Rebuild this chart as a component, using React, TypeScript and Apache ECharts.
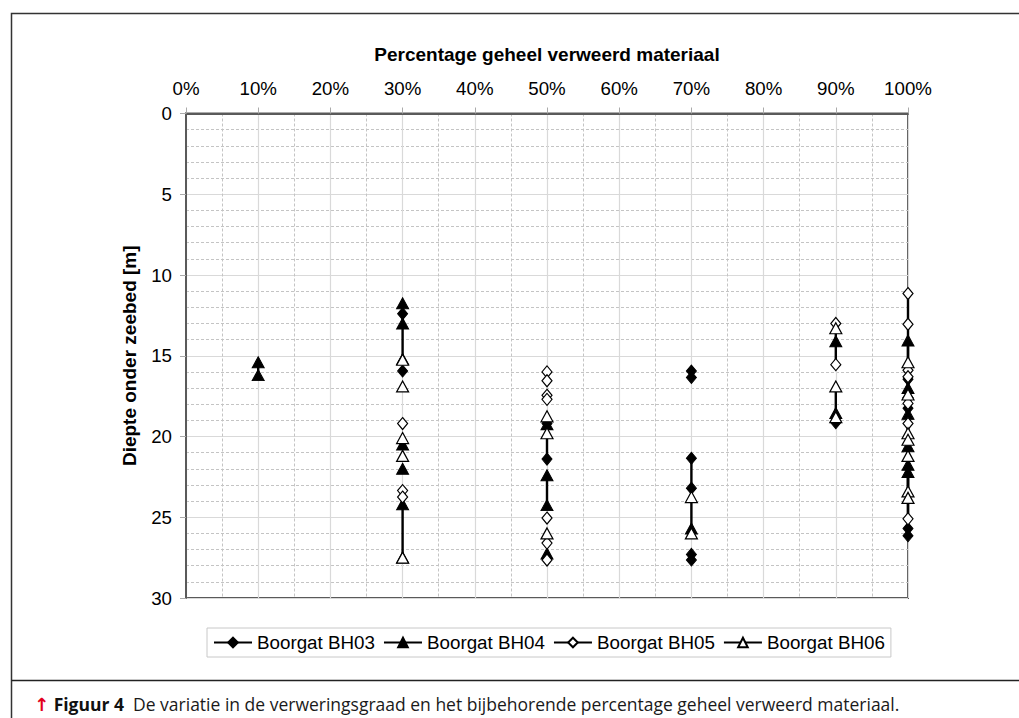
import React, { useEffect, useRef } from "react";
import * as echarts from "echarts";

// Percentage columns on the x axis (tick labels are built from these)
const X_TICKS = [0, 10, 20, 30, 40, 50, 60, 70, 80, 90, 100];
const Y_TICKS = [0, 5, 10, 15, 20, 25, 30];

// Each entry: [percentage, depths connected by a line]
const BH03: [number, number[]][] = [
  [30, [12.4]],
  [30, [15.95]],
  [50, [19.2, 21.4]],
  [70, [15.95, 16.35]],
  [70, [21.35, 23.2]],
  [70, [27.3, 27.65]],
  [90, [19.15]],
  [100, [16.45, 18.25, 25.7, 26.15]],
];

const BH04: [number, number[]][] = [
  [10, [15.4, 16.2]],
  [30, [11.75, 13.0, 15.2]],
  [30, [20.5]],
  [30, [22.0]],
  [30, [24.2, 27.5]],
  [50, [19.25]],
  [50, [22.4, 24.25]],
  [50, [27.25]],
  [70, [25.7]],
  [90, [14.1]],
  [90, [18.55]],
  [100, [14.05, 17.0, 18.6, 20.6, 21.75, 22.2]],
];

const BH05: [number, number[]][] = [
  [30, [19.2]],
  [30, [23.35, 23.75]],
  [50, [16.0]],
  [50, [16.55]],
  [50, [17.45]],
  [50, [17.7]],
  [50, [25.05]],
  [50, [26.6]],
  [50, [27.65]],
  [90, [13.0, 15.55]],
  [100, [11.15, 13.05, 15.9, 16.3, 17.6, 17.95, 19.2, 25.1]],
];

const BH06: [number, number[]][] = [
  [30, [15.25]],
  [30, [16.9]],
  [30, [20.1]],
  [30, [21.2]],
  [30, [27.5]],
  [50, [18.75]],
  [50, [19.8]],
  [50, [26.0]],
  [70, [23.75, 26.0]],
  [90, [13.3]],
  [90, [16.9, 18.8]],
  [100, [15.4, 17.4, 19.8, 20.2, 21.2, 23.4, 23.8]],
];

const SERIES_NAMES = ["Boorgat BH03", "Boorgat BH04", "Boorgat BH05", "Boorgat BH06"];
const X_TITLE = "Percentage geheel verweerd materiaal";
const Y_TITLE = "Diepte onder zeebed [m]";
const CAPTION_LABEL = "Figuur 4";
const CAPTION_TEXT =
  "De variatie in de verweringsgraad en het bijbehorende percentage geheel verweerd materiaal.";

function build(segments: [number, number[]][]) {
  const out: any[] = [];
  segments.forEach(([pct, depths]) => {
    depths.forEach((d) => out.push([pct, d]));
    out.push([pct, "-"]);
  });
  return out;
}

const FONT = "'Liberation Sans', Arial, sans-serif";
const CAP_FONT = "'Open Sans', 'Noto Sans', sans-serif";

export default function App() {
  const ref = useRef<HTMLDivElement>(null);
  useEffect(() => {
    if (!ref.current) return;
    const chart = echarts.init(ref.current, null, { renderer: "svg" });
    const mk = (
      name: string,
      segs: [number, number[]][],
      symbol: string,
      size: number[],
      filled: boolean
    ) => ({
      name,
      type: "line",
      data: build(segs),
      symbol,
      symbolSize: size,
      clip: false,
      connectNulls: false,
      lineStyle: { color: "#000", width: 2.4 },
      itemStyle: {
        color: filled ? "#000" : "#fff",
        borderColor: "#000",
        borderWidth: filled ? 1 : 1.2,
      },
      emphasis: { disabled: true },
    });
    const option: any = {
      animation: false,
      backgroundColor: "#fff",
      textStyle: { fontFamily: FONT },
      grid: {
        left: 186,
        top: 113.5,
        width: 722,
        height: 484.5,
        show: true,
        borderColor: "#5a5a5a",
        borderWidth: 2,
        backgroundColor: "transparent",
      },
      xAxis: {
        type: "value",
        position: "top",
        min: X_TICKS[0],
        max: X_TICKS[X_TICKS.length - 1],
        interval: X_TICKS[1] - X_TICKS[0],
        name: X_TITLE,
        nameLocation: "middle",
        nameGap: 50,
        nameTextStyle: { fontWeight: "bold", fontSize: 19, color: "#000", fontFamily: FONT },
        axisLine: { show: true, lineStyle: { color: "#5a5a5a", width: 2 } },
        axisTick: { show: true, length: 6, lineStyle: { color: "#aaa" } },
        axisLabel: { formatter: "{value}%", fontSize: 18.7, color: "#000", margin: 16, fontFamily: FONT },
        splitLine: { show: true, lineStyle: { color: "#d9d9d9", width: 1.2 } },
        minorTick: { show: false, splitNumber: 2 },
        minorSplitLine: { show: true, lineStyle: { color: "#c4c4c4", type: [3, 2], width: 1 } },
      },
      yAxis: {
        type: "value",
        inverse: true,
        min: Y_TICKS[0],
        max: Y_TICKS[Y_TICKS.length - 1],
        interval: Y_TICKS[1] - Y_TICKS[0],
        name: Y_TITLE,
        nameLocation: "middle",
        nameGap: 47,
        nameRotate: 90,
        nameTextStyle: { fontWeight: "bold", fontSize: 19, color: "#000", fontFamily: FONT },
        axisLine: { show: true, lineStyle: { color: "#5a5a5a", width: 2 } },
        axisTick: { show: true, length: 6, lineStyle: { color: "#aaa" } },
        axisLabel: { fontSize: 18.7, color: "#000", margin: 14, fontFamily: FONT },
        splitLine: { show: true, lineStyle: { color: "#d9d9d9", width: 1.2 } },
        minorTick: { show: false, splitNumber: 5 },
        minorSplitLine: { show: true, lineStyle: { color: "#c4c4c4", type: [3, 2], width: 1 } },
      },
      legend: {
        data: SERIES_NAMES,
        left: 207,
        top: 628,
        orient: "horizontal",
        padding: [5, 6],
        itemWidth: 38,
        itemHeight: 12,
        itemGap: 8,
        borderColor: "#c8c8c8",
        borderWidth: 1,
        backgroundColor: "#fff",
        textStyle: { fontSize: 18.8, color: "#000", fontFamily: FONT },
      },
      series: [
        mk(SERIES_NAMES[0], BH03, "diamond", [10, 12], true),
        mk(SERIES_NAMES[1], BH04, "triangle", [12, 11], true),
        mk(SERIES_NAMES[2], BH05, "diamond", [10, 12], false),
        mk(SERIES_NAMES[3], BH06, "triangle", [12, 11], false),
      ],
      graphic: [
        {
          type: "rect",
          silent: true,
          z: -10,
          shape: { x: 11.5, y: 13.5, width: 1040, height: 740 },
          style: { fill: "none", stroke: "#333", lineWidth: 1.5 },
        },
        {
          type: "line",
          silent: true,
          shape: { x1: 11.5, y1: 680.5, x2: 1019, y2: 680.5 },
          style: { stroke: "#222", lineWidth: 1.5 },
        },
        {
          type: "text",
          silent: true,
          x: 34,
          y: 704,
          style: {
            text: "{a|↑} {b|" + CAPTION_LABEL + "}  " + CAPTION_TEXT,
            fontFamily: CAP_FONT,
            fontSize: 17.5,
            fill: "#1a1a1a",
            verticalAlign: "middle",
            rich: {
              a: { fill: "#e3001b", fontSize: 18, fontWeight: "bold", fontFamily: "'DejaVu Sans', sans-serif" },
              b: { fill: "#111", fontSize: 17.5, fontWeight: "bold", fontFamily: CAP_FONT },
            },
          },
        },
      ],
    };
    chart.setOption(option);
    return () => chart.dispose();
  }, []);
  return (
    <div
      ref={ref}
      style={{ position: "fixed", left: 0, top: 0, width: 1019, height: 718 }}
    />
  );
}
